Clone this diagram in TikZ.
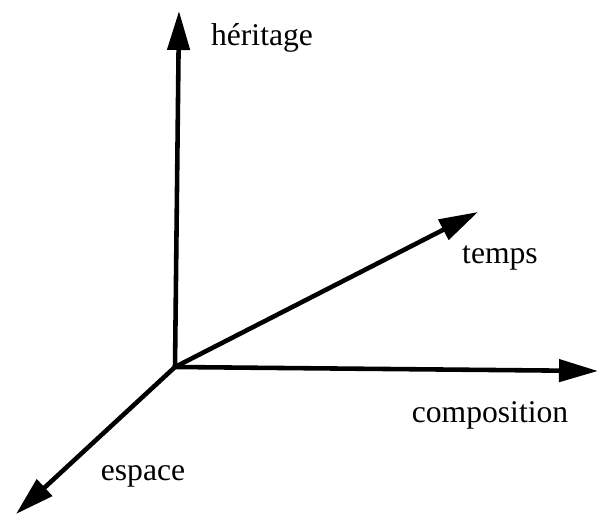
\documentclass[tikz,border=0pt]{standalone}
\usepackage{fontspec}
\setmainfont{Liberation Serif}
\usetikzlibrary{arrows.meta,positioning}

\begin{document}
\begin{tikzpicture}[
    x=0.02cm, y=-0.02cm,
    axis/.style={-{Triangle[length=0.78cm, width=0.44cm]}, line width=2.6pt, black},
    lbl/.style={font=\fontsize{18}{20}\selectfont, inner sep=0pt}
  ]
  \useasboundingbox (0,0) rectangle (601,516);

  \coordinate (o) at (175,367);
  \coordinate (her) at (179,11);
  \coordinate (tps) at (478,212);
  \coordinate (cmp) at (598,371);
  \coordinate (esp) at (16,514);

  \draw[axis] (o) -- (her);
  \draw[axis] (o) -- (tps);
  \draw[axis] (o) -- (cmp);
  \draw[axis] (o) -- (esp);

  \node[lbl] (lher) at (262,38) {héritage};
  \node[lbl] (ltps) at (500,258) {temps};
  \node[lbl] (lcmp) at (490,415) {composition};
  \node[lbl] (lesp) at (143,476) {espace};

\end{tikzpicture}
\end{document}
